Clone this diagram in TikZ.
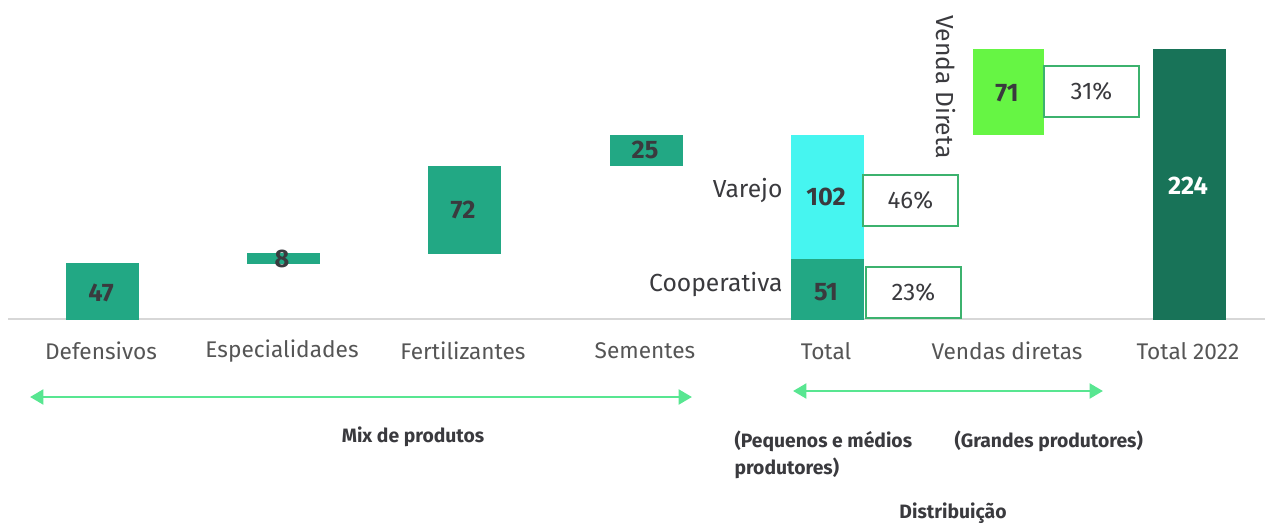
\documentclass[tikz,border=0pt]{standalone}
\usepackage{fontspec}
\setmainfont{Fira Sans}
\usetikzlibrary{arrows.meta}

\definecolor{barTeal}{RGB}{34,168,132}
\definecolor{barCyan}{RGB}{70,245,240}
\definecolor{barLime}{RGB}{102,245,68}
\definecolor{barDark}{RGB}{24,115,88}
\definecolor{boxLine}{RGB}{60,178,110}
\definecolor{arrLine}{RGB}{88,230,145}
\definecolor{axisGray}{RGB}{215,215,215}
\definecolor{catGray}{RGB}{85,85,85}
\definecolor{numGray}{RGB}{58,58,62}

\tikzset{every picture/.style={line width=0.75pt}}
\tikzset{
  bar/.style={anchor=north west, inner sep=0pt, minimum width=54.75pt},
  val/.style={inner sep=0.75pt, text=numGray, font=\fontsize{19}{21}\selectfont\bfseries},
  pct/.style={anchor=north west, draw=boxLine, line width=1.6pt, fill=white, inner sep=0pt, minimum width=71pt, minimum height=38pt, text=numGray, font=\fontsize{18}{20}\selectfont},
  cat/.style={inner sep=0.75pt, text=catGray, font=\fontsize{17}{20}\selectfont},
  side/.style={inner sep=0.75pt, text=numGray, font=\fontsize{18.5}{21}\selectfont},
  note/.style={inner sep=0.75pt, text=numGray, font=\fontsize{14.5}{20}\selectfont\bfseries},
  span/.style={arrLine, line width=2.2pt, {Triangle[length=10pt,width=11pt]}-{Triangle[length=10pt,width=11pt]}}
}

\begin{document}
\begin{tikzpicture}[x=0.75pt,y=0.75pt,yscale=-1,xscale=1]
\useasboundingbox (0,0) rectangle (1265,525);

% axis
\draw[axisGray, line width=2pt] (8,319) -- (1265,319);

% Mix de produtos bars
\node[bar, fill=barTeal, minimum height=43pt] (def) at (65,262) {};
\node[val] (defv) at (101,293) {47};
\node[bar, fill=barTeal, minimum height=8.25pt] (esp) at (246,252) {};
\node[val] (espv) at (282,259) {8};
\node[bar, fill=barTeal, minimum height=66pt] (fer) at (427,165) {};
\node[val] (ferv) at (463,210) {72};
\node[bar, fill=barTeal, minimum height=23.25pt] (sem) at (609,134) {};
\node[val] (semv) at (645,150) {25};

% Distribuicao bars
\node[bar, fill=barTeal, minimum height=45.75pt] (coop) at (790,258) {};
\node[val] (coopv) at (826,292) {51};
\node[bar, fill=barCyan, minimum height=93pt] (var) at (790,134) {};
\node[val] (varv) at (826,197) {102};
\node[bar, fill=barLime, minimum height=64.5pt, minimum width=53.25pt] (dir) at (972,48) {};
\node[val] (dirv) at (1007,93) {71};
\node[bar, fill=barDark, minimum height=203.25pt] (tot) at (1152,48) {};
\node[val, text=white] (totv) at (1188,186) {224};

% percentage boxes
\node[pct] (p46) at (862,174) {46\%};
\node[pct] (p23) at (865,266) {23\%};
\node[pct] (p31) at (1043,65) {31\%};

% side labels
\draw (784,190) node [anchor=east][side] (lvar) {Varejo};
\draw (784,285) node [anchor=east][side] (lcoop) {Cooperativa};
\draw (946,87) node [rotate=-90][side] (ldir) {Venda Direta};

% categories
\draw (101,351) node [cat] (cdef) {Defensivos};
\draw (282,351) node [cat] (cesp) {Especialidades};
\draw (463,351) node [cat] (cfer) {Fertilizantes};
\draw (645,351) node [cat] (csem) {Sementes};
\draw (826,351) node [cat] (ctot) {Total};
\draw (1007,351) node [cat] (cven) {Vendas diretas};
\draw (1188,351) node [cat] (ct22) {Total 2022};

% spans
\coordinate (mixL) at (30,397);
\coordinate (mixR) at (692,397);
\coordinate (disL) at (793,391);
\coordinate (disR) at (1103,391);
\draw[span] (mixL) -- (mixR);
\draw[span] (disL) -- (disR);

% notes
\draw (413,437) node [note] (nmix) {Mix de produtos};
\draw (733,441) node [anchor=west][note] (npeq) {(Pequenos e médios};
\draw (733,468) node [anchor=west][note] (nprod) {produtores)};
\draw (953,441) node [anchor=west][note] (ngra) {(Grandes produtores)};
\draw (953,513) node [note] (ndis) {Distribuição};

\end{tikzpicture}
\end{document}
